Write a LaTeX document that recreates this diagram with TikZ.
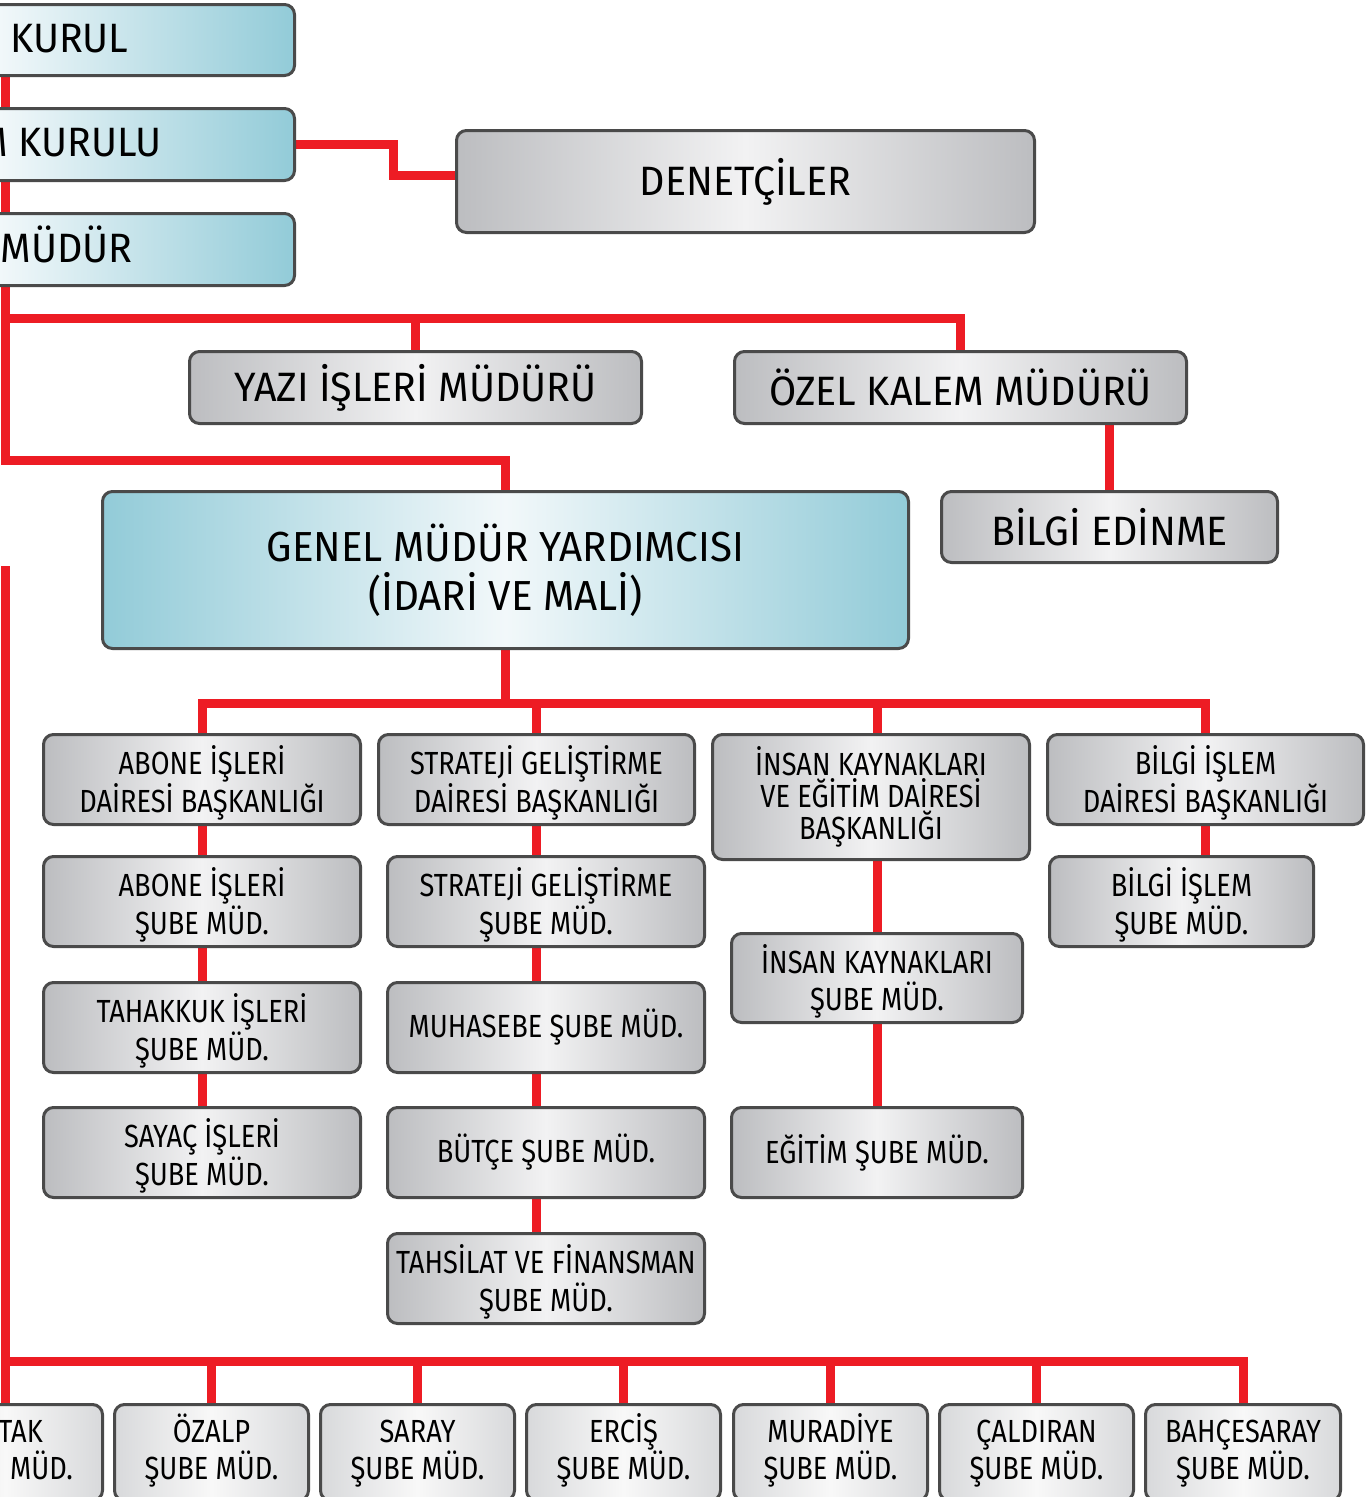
\documentclass[tikz,border=0pt]{standalone}
\usepackage{fontspec}
\setmainfont{Fira Sans}[FakeStretch=0.85]
\newfontfamily\bigfont{Fira Sans}[FakeStretch=0.96]
\pgfdeclarelayer{bg}
\pgfsetlayers{bg,main}
\definecolor{linkred}{HTML}{ED1C24}
\definecolor{bordercol}{HTML}{4A4A4A}
\definecolor{blueedge}{HTML}{92CBD8}
\definecolor{bluemid}{HTML}{F2F8FA}
\definecolor{grayedge}{HTML}{BCBDC0}
\definecolor{graymid}{HTML}{F2F2F3}
\definecolor{lightedge}{HTML}{D8D9DB}
\definecolor{lightmid}{HTML}{F8F8F8}
\newcommand\orgbox[7]{\node[#2, minimum width={((#5)-(#3)-3)*1pt}, minimum height={((#6)-(#4)-3)*1pt}] (#1) at ({((#3)+(#5))/2},{((#4)+(#6))/2}) {#7};}
\newcommand\lift{\rule{0pt}{36pt}}
\newcommand\sink{\rule[-19.5pt]{0pt}{0pt}}
\newcommand\btm[1]{\lift #1\\ŞUBE MÜD.\sink}
\begin{document}
\begin{tikzpicture}[x=1pt,y=-1pt,
  box/.style={draw=bordercol, line width=3pt, rounded corners=10pt, inner sep=0pt, align=center, text=black},
  graybox/.style={box, left color=grayedge, right color=grayedge, middle color=graymid},
  bluebox/.style={box, left color=blueedge, right color=blueedge, middle color=bluemid},
  lightbox/.style={box, left color=lightedge, right color=lightedge, middle color=lightmid},
  bigf/.style={font=\bigfont\fontsize{41}{49}\selectfont},
  gmyf/.style={font=\bigfont\fontsize{42}{49}\selectfont},
  smallf/.style={font=\fontsize{32}{37.5}\selectfont},
  tight/.style={font=\fontsize{32}{32}\selectfont},
  txt/.style={inner sep=0pt, text=black},
  link/.style={draw=linkred, line width=9pt, line join=miter}]
\useasboundingbox (0,0) rectangle (1366,1497);

% top (cut) boxes
\orgbox{gk}{bluebox}{-300}{3}{296}{77}{}
\orgbox{yk}{bluebox}{-300}{107}{296}{182}{}
\orgbox{gm}{bluebox}{-300}{212}{296}{287}{}
\node[txt,bigf,anchor=base west] (gk-t) at (10,52) {KURUL};
\node[txt,bigf,anchor=base east] (yk-t) at (162,156) {M KURULU};
\node[txt,bigf,anchor=base east] (gm-t) at (133,262) {MÜDÜR};

\orgbox{den}{graybox,bigf}{455}{129}{1036}{234}{DENETÇİLER}
\orgbox{yazi}{graybox,bigf}{188}{350}{643}{425}{YAZI İŞLERİ MÜDÜRÜ}
\orgbox{ozel}{graybox,bigf}{733}{350}{1188}{425}{ÖZEL KALEM MÜDÜRÜ}
\orgbox{be}{graybox,bigf}{940}{490}{1279}{564}{BİLGİ EDİNME}
\orgbox{gmy}{bluebox,gmyf}{101}{490}{910}{650}{GENEL MÜDÜR YARDIMCISI\\(İDARİ VE MALİ)}

% row 1
\orgbox{abone}{graybox,smallf}{42}{733}{362}{826}{\lift ABONE İŞLERİ\\DAİRESİ BAŞKANLIĞI}
\orgbox{strat}{graybox,smallf}{377}{733}{696}{826}{\lift STRATEJİ GELİŞTİRME\\DAİRESİ BAŞKANLIĞI}
\orgbox{insan}{graybox,tight}{711}{733}{1031}{861}{İNSAN KAYNAKLARI\\VE EĞİTİM DAİRESİ\\BAŞKANLIĞI}
\orgbox{bilgi}{graybox,smallf}{1046}{733}{1365}{826}{\lift BİLGİ İŞLEM\\DAİRESİ BAŞKANLIĞI}
% row 2
\orgbox{abs}{graybox,smallf}{42}{855}{362}{948}{\lift ABONE İŞLERİ\\ŞUBE MÜD.}
\orgbox{sts}{graybox,smallf}{386}{855}{706}{948}{\lift STRATEJİ GELİŞTİRME\\ŞUBE MÜD.}
\orgbox{iks}{graybox,smallf}{730}{932}{1024}{1024}{\lift İNSAN KAYNAKLARI\\ŞUBE MÜD.}
\orgbox{bis}{graybox,smallf}{1048}{855}{1315}{948}{\lift BİLGİ İŞLEM\\ŞUBE MÜD.}
% row 3
\orgbox{tah}{graybox,smallf}{42}{981}{362}{1074}{\lift TAHAKKUK İŞLERİ\\ŞUBE MÜD.}
\orgbox{muh}{graybox,smallf}{386}{981}{706}{1074}{MUHASEBE ŞUBE MÜD.}
% row 4
\orgbox{say}{graybox,smallf}{42}{1106}{362}{1199}{\lift SAYAÇ İŞLERİ\\ŞUBE MÜD.}
\orgbox{but}{graybox,smallf}{386}{1106}{706}{1199}{BÜTÇE ŞUBE MÜD.}
\orgbox{egt}{graybox,smallf}{730}{1106}{1024}{1199}{EĞİTİM ŞUBE MÜD.}
% row 5
\orgbox{tahs}{graybox,smallf}{386}{1232}{706}{1325}{\lift TAHSİLAT VE FİNANSMAN\\ŞUBE MÜD.}

% bottom row
\orgbox{b0}{lightbox}{-93}{1403}{104}{1502}{}
\node[txt,smallf,anchor=base east] (b0-t1) at (43,1442) {TAK};
\node[txt,smallf,anchor=base east] (b0-t2) at (73,1479) {MÜD.};
\orgbox{b1}{lightbox,smallf}{113}{1403}{310}{1502}{\btm{ÖZALP}}
\orgbox{b2}{lightbox,smallf}{319}{1403}{516}{1502}{\btm{SARAY}}
\orgbox{b3}{lightbox,smallf}{525}{1403}{722}{1502}{\btm{ERCİŞ}}
\orgbox{b4}{lightbox,smallf}{732}{1403}{929}{1502}{\btm{MURADİYE}}
\orgbox{b5}{lightbox,smallf}{938}{1403}{1135}{1502}{\btm{ÇALDIRAN}}
\orgbox{b6}{lightbox,smallf}{1144}{1403}{1342}{1502}{\btm{BAHÇESARAY}}

\begin{pgfonlayer}{bg}
\coordinate (lx) at (5,0);
\coordinate (h1) at (0,318);
\coordinate (h2) at (0,460);
\coordinate (dj) at (393,175);
\coordinate (r1) at (0,703);
\coordinate (c2) at (536,0);
\coordinate (c3) at (877,0);
\coordinate (ls) at (5,566);
\coordinate (r2) at (0,1361);
% left spine
\draw[link] (gk.south -| lx) -- (yk.north -| lx);
\draw[link] (yk.south -| lx) -- (gm.north -| lx);
\draw[link] (gm.south -| lx) -- (h2 -| lx) -- (h2 -| gmy.north) -- (gmy.north);
\draw[link] (h1 -| lx) -- (h1 -| ozel.north) -- (ozel.north);
\draw[link] (h1 -| yazi.north) -- (yazi.north);
\draw[link] (yk.east) -| (dj) -- (dj -| den.west);
\draw[link] (ozel.south -| be.north) -- (be.north);
% GMY branches
\draw[link] (gmy.south) -- (gmy.south |- r1);
\draw[link] (abone.north) -- (abone.north |- r1) -- (bilgi.north |- r1) -- (bilgi.north);
\draw[link] (c2 |- r1) -- (c2 |- strat.north);
\draw[link] (c3 |- r1) -- (c3 |- insan.north);
% column 1
\draw[link] (abone.south) -- (abs.north);
\draw[link] (abs.south) -- (tah.north);
\draw[link] (tah.south) -- (say.north);
% column 2
\draw[link] (c2 |- strat.south) -- (c2 |- sts.north);
\draw[link] (c2 |- sts.south) -- (c2 |- muh.north);
\draw[link] (c2 |- muh.south) -- (c2 |- but.north);
\draw[link] (c2 |- but.south) -- (c2 |- tahs.north);
% column 3
\draw[link] (c3 |- insan.south) -- (iks.north);
\draw[link] (iks.south) -- (egt.north);
% column 4
\draw[link] (bilgi.south) -- (bilgi.south |- bis.north);
% bottom row
\draw[link] (ls) -- (ls |- b0.north);
\draw[link] (r2 -| ls) -- (r2 -| b6.north) -- (b6.north);
\draw[link] (r2 -| b1.north) -- (b1.north);
\draw[link] (r2 -| b2.north) -- (b2.north);
\draw[link] (r2 -| b3.north) -- (b3.north);
\draw[link] (r2 -| b4.north) -- (b4.north);
\draw[link] (r2 -| b5.north) -- (b5.north);
\end{pgfonlayer}
\end{tikzpicture}
\end{document}
